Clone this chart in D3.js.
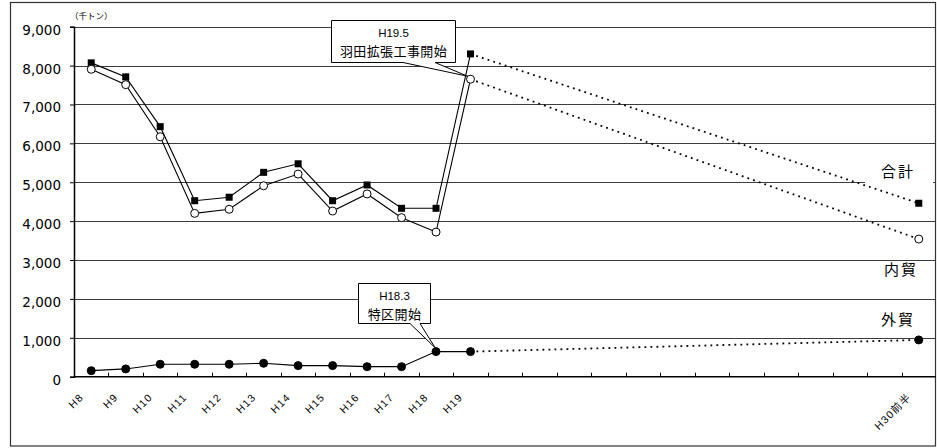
<!DOCTYPE html>
<html>
<head>
<meta charset="utf-8">
<script src="https://cdn.jsdelivr.net/npm/d3@7/dist/d3.min.js"></script>
<style>
  html, body { margin: 0; padding: 0; background: #fff; }
  svg { display: block; }
</style>
</head>
<body>
<svg id="chart" width="937" height="448"></svg>
<script>
// Category slots along the x axis (blank slots keep the gap before the target year)
const categories = ['H8','H9','H10','H11','H12','H13','H14','H15','H16','H17','H18','H19',
  '','','','','','','','','','','','', 'H30前半'];
const actualCount = 12;          // H8..H19 are observed values
const targetIndex = 24;          // H30前半 is the target value

// Cargo volume (thousand tonnes)
const totalVals    = [8070, 7710, 6430, 4525, 4615, 5255, 5475, 4525, 4930, 4330, 4330, 8300];
const domesticVals = [7905, 7510, 6170, 4200, 4305, 4910, 5210, 4260, 4700, 4090, 3720, 7650];
const foreignVals  = [155, 200, 320, 320, 320, 345, 285, 285, 258, 258, 645, 645];
const totalTarget = 4460, domesticTarget = 3540, foreignTarget = 945;

const yTicks = [0, 1000, 2000, 3000, 4000, 5000, 6000, 7000, 8000, 9000];
const unitLabel = '（千トン）';
const seriesLabels = ['合計', '内貿', '外貿'];
const notes = [
  { title: 'H19.5', body: '羽田拡張工事開始' },
  { title: 'H18.3', body: '特区開始' }
];

const svg = d3.select('#chart');
const plot = { left: 74, right: 936, top: 26.7, bottom: 376.7 };

const x = d3.scaleBand().domain(d3.range(categories.length)).range([plot.left, plot.right]).padding(0);
const cx = i => x(i) + x.bandwidth() / 2;
const y = d3.scaleLinear().domain([0, 9000]).range([plot.bottom, plot.top]);

// outer frame
svg.append('rect').attr('x', 10.5).attr('y', 2.5).attr('width', 925).attr('height', 443.5)
  .attr('fill', 'none').attr('stroke', '#333').attr('stroke-width', 1.2);

// horizontal grid
svg.append('g').selectAll('line').data(yTicks.filter(d => d > 0)).join('line')
  .attr('x1', plot.left).attr('x2', plot.right)
  .attr('y1', d => Math.round(y(d)) + 0.5).attr('y2', d => Math.round(y(d)) + 0.5)
  .attr('stroke', '#3c3c3c').attr('stroke-width', 1);

// y axis
const yAxis = svg.append('g').attr('transform', `translate(${plot.left},0)`)
  .call(d3.axisLeft(y).tickValues(yTicks).tickFormat(d3.format(',')).tickSize(4).tickPadding(9));
yAxis.select('.domain').attr('stroke', '#000').attr('stroke-width', 1.5);
yAxis.selectAll('.tick line').attr('stroke', '#000');
yAxis.selectAll('.tick text').attr('font-family', 'DejaVu Sans').attr('font-size', 13.5)
  .attr('fill', '#000').attr('dy', '0.55em');

// x axis baseline and ticks at category boundaries
svg.append('line').attr('x1', plot.left).attr('x2', plot.right)
  .attr('y1', plot.bottom).attr('y2', plot.bottom).attr('stroke', '#000').attr('stroke-width', 1.5);
svg.append('g').selectAll('line').data(d3.range(1, categories.length)).join('line')
  .attr('x1', i => Math.round(x(i)) + 0.5).attr('x2', i => Math.round(x(i)) + 0.5)
  .attr('y1', plot.bottom).attr('y2', plot.bottom - 4)
  .attr('stroke', '#000').attr('stroke-width', 1);

// rotated category labels
svg.append('g').selectAll('text').data(categories.map((c, i) => ({ c, i })).filter(d => d.c))
  .join('text')
  .attr('transform', d => `translate(${cx(d.i) - 7},${plot.bottom + 21}) rotate(-45)`)
  .attr('text-anchor', 'end')
  .attr('font-family', 'Liberation Sans, Noto Sans CJK JP')
  .attr('font-size', 10.5).attr('letter-spacing', 1.2)
  .text(d => d.c);

// unit label
svg.append('text').attr('x', 70).attr('y', 19)
  .attr('font-family', 'Noto Sans CJK JP').attr('font-size', 8.5).text(unitLabel);

// white panel behind the series names
svg.append('rect').attr('x', 865).attr('y', 158).attr('width', 68).attr('height', 26).attr('fill', '#fff');

const pts = (vals, target) => ({
  actual: vals.map((v, i) => [cx(i), y(v)]),
  proj: [[cx(actualCount - 1), y(vals[actualCount - 1])], [cx(targetIndex), y(target)]]
});
const series = [
  { p: pts(totalVals, totalTarget), marker: 'square' },
  { p: pts(domesticVals, domesticTarget), marker: 'open' },
  { p: pts(foreignVals, foreignTarget), marker: 'dot' }
];

const line = d3.line();
series.forEach(s => {
  svg.append('path').attr('d', line(s.p.actual)).attr('fill', 'none')
    .attr('stroke', '#000').attr('stroke-width', 1.1);
  svg.append('path').attr('d', line(s.p.proj)).attr('fill', 'none')
    .attr('stroke', '#000').attr('stroke-width', 1.8).attr('stroke-dasharray', '1.8,4.2');
});

series.forEach(s => {
  const all = s.p.actual.concat([s.p.proj[1]]);
  const g = svg.append('g');
  if (s.marker === 'square') {
    g.selectAll('rect').data(all).join('rect')
      .attr('x', d => d[0] - 3.5).attr('y', d => d[1] - 3.5)
      .attr('width', 7).attr('height', 7).attr('fill', '#000');
  } else {
    g.selectAll('circle').data(all).join('circle')
      .attr('cx', d => d[0]).attr('cy', d => d[1]).attr('r', 4)
      .attr('fill', s.marker === 'open' ? '#fff' : '#000')
      .attr('stroke', '#000').attr('stroke-width', 1);
  }
});

// callouts
function callout(box, baseL, baseR, tip, note) {
  const path = `M${box.x0},${box.y0}H${box.x1}V${box.y1}H${baseR}L${tip[0]},${tip[1]}L${baseL},${box.y1}H${box.x0}Z`;
  svg.append('path').attr('d', path).attr('fill', '#fff').attr('stroke', '#000').attr('stroke-width', 1);
  const mid = (box.x0 + box.x1) / 2;
  svg.append('text').attr('x', mid).attr('y', box.y0 + 16).attr('text-anchor', 'middle')
    .attr('font-family', 'Liberation Sans').attr('font-size', 11.5).text(note.title);
  svg.append('text').attr('x', mid).attr('y', box.y0 + 35).attr('text-anchor', 'middle')
    .attr('font-family', 'Noto Sans CJK JP').attr('font-size', 13).attr('letter-spacing', 0.4)
    .text(note.body);
}
callout({ x0: 331.5, y0: 20.5, x1: 455.5, y1: 62.5 }, 403, 435,
  [cx(11) - 3, y(domesticVals[11]) - 3], notes[0]);
callout({ x0: 358.5, y0: 283.5, x1: 430.5, y1: 323.5 }, 410, 420,
  [cx(10) - 1, y(foreignVals[10]) - 4], notes[1]);

// series names
const nameY = [177, 275, 325];
svg.append('g').selectAll('text').data(seriesLabels).join('text')
  .attr('x', (d, i) => i === 1 ? 884 : 881).attr('y', (d, i) => nameY[i])
  .attr('font-family', 'Noto Sans CJK JP').attr('font-size', 15).attr('letter-spacing', 2)
  .text(d => d);
</script>
</body>
</html>
